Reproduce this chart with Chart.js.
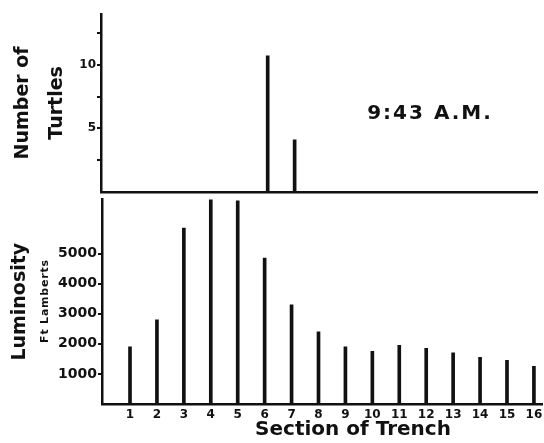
<!DOCTYPE html>
<html>
<head>
<meta charset="utf-8">
<script src="https://cdn.jsdelivr.net/npm/chart.js@4.4.1/dist/chart.umd.min.js"></script>
<style>
  body { margin: 0; background: #fff; }
  #wrap { position: relative; width: 544px; height: 443px; }
  #turtleBox { position: absolute; left: 0; top: 0; width: 544px; height: 200px; }
  #lumBox { position: absolute; left: 0; top: 190px; width: 544px; height: 253px; }
</style>
</head>
<body>
<div id="wrap">
  <div id="turtleBox"><canvas id="turtleChart"></canvas></div>
  <div id="lumBox"><canvas id="lumChart"></canvas></div>
</div>
<script>
// Data
const sections = [1, 2, 3, 4, 5, 6, 7, 8, 9, 10, 11, 12, 13, 14, 15, 16];
const turtleCounts = [null, null, null, null, null, 10.7, 4.1, null, null, null, null, null, null, null, null, null];
const luminosity = [1900, 2800, 5850, 7000, 6750, 4850, 3300, 2400, 1900, 1750, 1950, 1850, 1700, 1550, 1450, 1250];
const turtleTicks = [2.5, 5, 7.5, 10, 12.5];
const turtleLabels = [5, 10];
const lumTicks = [1000, 2000, 3000, 4000, 5000];
const timeLabel = "9:43 A.M.";

const FONT = "'DejaVu Sans', sans-serif";
const INK = "#111";

Chart.defaults.font.family = FONT;
Chart.defaults.color = INK;

function toPoints(values) {
    return sections.map((s, i) => ({ x: s, y: values[i] }));
}

// draws plain text on the canvas, optional rotation and letter spacing
function drawText(ctx, text, x, y, size, spacing, angle) {
    ctx.save();
    ctx.translate(x, y);
    if (angle) ctx.rotate(angle);
    ctx.font = "bold " + size + "px " + FONT;
    ctx.fillStyle = INK;
    ctx.textAlign = "center";
    ctx.textBaseline = "middle";
    ctx.letterSpacing = spacing + "px";
    ctx.fillText(text, 0, 0);
    ctx.restore();
}

// the two panels have slightly different plot widths, so each gets its own range
const topRange = { min: -0.19, max: 16.0 };
const lowRange = { min: -0.04, max: 16.3 };

// Top panel: number of turtles
new Chart(document.getElementById("turtleChart"), {
    type: "bar",
    data: {
        datasets: [{
            data: toPoints(turtleCounts),
            backgroundColor: INK,
            barThickness: 3,
            clip: 0
        }]
    },
    options: {
        responsive: true,
        maintainAspectRatio: false,
        animation: false,
        devicePixelRatio: 1,
        layout: { padding: { left: 0, right: 7, top: 14, bottom: 6 } },
        plugins: { legend: { display: false }, tooltip: { enabled: false } },
        scales: {
            x: {
                type: "linear",
                offset: false,
                min: topRange.min,
                max: topRange.max,
                grid: { display: false, drawTicks: false, offset: false },
                border: { display: true, color: INK, width: 2.5 },
                ticks: { display: false },
                afterFit: (s) => { s.height = 0; }
            },
            y: {
                min: 0,
                max: 14,
                afterBuildTicks: (s) => { s.ticks = turtleTicks.map(v => ({ value: v })); },
                afterFit: (s) => { s.width = 101; },
                grid: { drawOnChartArea: false, drawTicks: true, tickLength: 4, color: INK, lineWidth: 2 },
                border: { display: true, color: INK, width: 2.5 },
                ticks: {
                    padding: 1,
                    font: { size: 12, weight: "bold" },
                    callback: (v) => turtleLabels.includes(v) ? String(v) : ""
                },
                title: {
                    display: true,
                    text: ["Number of", "Turtles"],
                    font: { size: 19, weight: "bold", lineHeight: 1.8 },
                    padding: { top: 6, bottom: 0 }
                }
            }
        }
    },
    plugins: [{
        id: "timeStamp",
        afterDraw(chart) {
            drawText(chart.ctx, timeLabel, 430, 114, 20, 2, 0);
        }
    }]
});

// Bottom panel: luminosity by section
new Chart(document.getElementById("lumChart"), {
    type: "bar",
    data: {
        datasets: [{
            data: toPoints(luminosity),
            backgroundColor: INK,
            barThickness: 3,
            clip: 0
        }]
    },
    options: {
        responsive: true,
        maintainAspectRatio: false,
        animation: false,
        devicePixelRatio: 1,
        layout: { padding: { left: 0, right: 2, top: 3, bottom: 0 } },
        plugins: { legend: { display: false }, tooltip: { enabled: false } },
        scales: {
            x: {
                type: "linear",
                offset: false,
                min: lowRange.min,
                max: lowRange.max,
                afterBuildTicks: (s) => { s.ticks = sections.map(v => ({ value: v })); },
                afterFit: (s) => {
                    s.height = 39;
                    // keep the "16" label from pulling the plot edge in
                    s.paddingLeft = 0;
                    s.paddingRight = 0;
                },
                grid: { display: false, drawTicks: false, offset: false },
                border: { display: true, color: INK, width: 2.5 },
                ticks: {
                    padding: 4, maxRotation: 0, autoSkip: false,
                    font: { size: 12, weight: "bold" },
                    callback: (v) => String(v)
                }
            },
            y: {
                min: 0,
                max: 6800,
                afterBuildTicks: (s) => { s.ticks = lumTicks.map(v => ({ value: v })); },
                afterFit: (s) => { s.width = 102; },
                grid: { drawOnChartArea: false, drawTicks: true, tickLength: 4, color: INK, lineWidth: 2 },
                border: { display: true, color: INK, width: 2.5 },
                ticks: { padding: 1, font: { size: 14, weight: "bold" }, callback: (v) => String(v) },
                title: {
                    display: true,
                    text: "Luminosity",
                    font: { size: 19, weight: "bold" },
                    padding: { top: 9, bottom: 0 }
                }
            }
        }
    },
    plugins: [{
        id: "extraLabels",
        afterDraw(chart) {
            const ctx = chart.ctx;
            drawText(ctx, "Ft Lamberts", 45, 111, 11, 0.8, -Math.PI / 2);
            drawText(ctx, "Section of Trench", 353, 240, 20, 0, 0);
        }
    }]
});
</script>
</body>
</html>
